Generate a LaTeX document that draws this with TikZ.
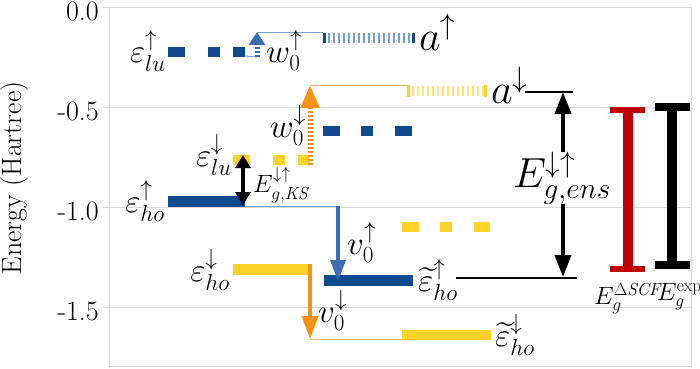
\RequirePackage{fix-cm}
\documentclass[tikz,border=0pt]{standalone}
\usepackage{amsmath,amssymb}
\usetikzlibrary{arrows.meta}

\definecolor{lvlblue}{RGB}{14,74,140}
\definecolor{lvlyellow}{RGB}{255,210,40}
\definecolor{arrblue}{RGB}{60,108,180}
\definecolor{arrorange}{RGB}{250,145,20}
\definecolor{hatchblue}{RGB}{120,160,205}
\definecolor{hatchyellow}{RGB}{255,226,120}
\definecolor{gapred}{RGB}{192,0,0}
\definecolor{gridgray}{RGB}{217,217,217}

\begin{document}
\begin{tikzpicture}[x=1pt, y=-1pt,
    lbl/.style={inner sep=0pt, font=\fontsize{33}{37}\selectfont},
    biglbl/.style={inner sep=0pt, font=\fontsize{42}{46}\selectfont},
    smalllbl/.style={inner sep=0pt, font=\fontsize{25}{30}\selectfont},
    ticklbl/.style={inner sep=0pt, font=\fontsize{28}{32}\selectfont},
    lvl/.style={line width=10.5pt},
    dashA/.style={dash pattern=on 17pt off 23pt on 12pt off 13pt},
    dashB/.style={dash pattern=on 17pt off 21pt on 12pt off 22pt},
    hatch/.style={line width=10pt, dash pattern=on 2pt off 3pt},
    linkblue/.style={draw=hatchblue, line width=1pt},
    linkorange/.style={draw=arrorange!60, line width=1pt},
    bigtip/.style={-{Triangle[width=16pt,length=22pt]}}
  ]
  \useasboundingbox (0,0) rectangle (700,368);

  % Axes
  \draw[gridgray, line width=0.8pt] (109,7) rectangle (691,366);
  \foreach \v/\yy/\n in {0.0/7/a, -0.5/107/b, -1.0/207/c, -1.5/307/d} {
    \draw[gridgray, line width=0.8pt] (103,\yy) -- (691,\yy);
    \node[ticklbl, anchor=east] (tick\n) at (99,\yy+4) {\v};
  }
  \node[ticklbl, rotate=90] (ylabel) at (15,178) {Energy (Hartree)};

  % Levels
  \coordinate (luUpL) at (168,52);    \coordinate (luUpR) at (245,52);
  \coordinate (aUpL) at (323,38);     \coordinate (aUpR) at (415,38);
  \coordinate (aDnL) at (407,91);     \coordinate (aDnR) at (487,91);
  \coordinate (lsUpL) at (323,131);   \coordinate (lsUpR) at (413,131);
  \coordinate (luDnL) at (233,160);   \coordinate (luDnR) at (310,160);
  \coordinate (hoUpL) at (168,201.5); \coordinate (hoUpR) at (245,201.5);
  \coordinate (lsDnL) at (402,227);   \coordinate (lsDnR) at (490,227);
  \coordinate (hoDnL) at (233,269.5); \coordinate (hoDnR) at (310,269.5);
  \coordinate (thUpL) at (324,280.5); \coordinate (thUpR) at (413,280.5);
  \coordinate (thDnL) at (402,335);   \coordinate (thDnR) at (491,335);

  \draw[lvl, lvlblue, dashA] (luUpL) -- (luUpR);
  \draw[lvl, lvlblue, dashB] (lsUpL) -- (lsUpR);
  \draw[lvl, lvlblue] (hoUpL) -- (hoUpR);
  \draw[lvl, lvlblue] (thUpL) -- (thUpR);
  \draw[lvl, lvlyellow, dashA] (luDnL) -- (luDnR);
  \draw[lvl, lvlyellow, dashB] (lsDnL) -- (lsDnR);
  \draw[lvl, lvlyellow] (hoDnL) -- (hoDnR);
  \draw[lvl, lvlyellow] (thDnL) -- (thDnR);
  \draw[hatch, hatchblue] (aUpL) -- (aUpR);
  \draw[lvlblue, line width=3pt] ([xshift=1.5pt,yshift=5pt]aUpL) -- ([xshift=1.5pt,yshift=-5pt]aUpL);
  \draw[lvlblue, line width=3pt] ([xshift=-1.5pt,yshift=5pt]aUpR) -- ([xshift=-1.5pt,yshift=-5pt]aUpR);
  \draw[hatch, hatchyellow] (aDnL) -- (aDnR);
  \draw[lvlyellow, line width=3pt] ([xshift=1.5pt,yshift=6pt]aDnL) -- ([xshift=1.5pt,yshift=-6pt]aDnL);
  \draw[lvlyellow, line width=3pt] ([xshift=-1.5pt,yshift=6pt]aDnR) -- ([xshift=-1.5pt,yshift=-6pt]aDnR);

  % Excitation arrows
  \coordinate (w0UpTail) at (257,57);  \coordinate (w0UpTip) at (257,32);
  \coordinate (w0DnTail) at (310,165); \coordinate (w0DnTip) at (310,85);
  \coordinate (v0UpTail) at (338,206); \coordinate (v0UpTip) at (338,281);
  \coordinate (v0DnTail) at (310,264); \coordinate (v0DnTip) at (310,339);

  \draw[linkblue] ([yshift=-4pt]luUpR) -- (w0UpTail);
  \draw[linkblue] (w0UpTip) -- (w0UpTip -| aUpL);
  \draw[arrblue, line width=5pt, dash pattern=on 2pt off 2pt, -{Triangle[width=16pt,length=13pt]}] (w0UpTail) -- (w0UpTip);

  \draw[linkorange] (w0DnTip) -- (w0DnTip -| aDnL);
  \draw[arrorange, line width=5pt, dash pattern=on 2pt off 2pt, -{Triangle[width=18pt,length=23pt]}] (w0DnTail) -- (w0DnTip);

  \draw[linkblue] ([yshift=-4.5pt]hoUpR) -- (v0UpTail);
  \draw[arrblue, line width=3.5pt, -{Triangle[width=15pt,length=21pt]}] (v0UpTail) -- (v0UpTip);

  \draw[linkorange] (v0DnTip) -- (v0DnTip -| thDnL);
  \draw[arrorange, line width=3.5pt, -{Triangle[width=16pt,length=23pt]}] (v0DnTail) -- (v0DnTip);

  % Gaps
  \coordinate (ksBot) at (243,205); \coordinate (ksTop) at (243,155);
  \draw[black, line width=4.5pt, {Triangle[width=15pt,length=13pt]}-{Triangle[width=15pt,length=13pt]}] (ksBot) -- (ksTop);

  \coordinate (ensTop) at (563,92); \coordinate (ensBot) at (563,277);
  \draw[black, line width=1.5pt] (525,92) -- (573,92);
  \draw[black, line width=1.5pt] (456,278) -- (577,278);
  \node[biglbl] (ens) at (562,178) {$E_{g,ens}^{\downarrow\uparrow}$};
  \draw[black, line width=4pt, bigtip] (ens.north -| ensTop) -- (ensTop);
  \draw[black, line width=4pt, bigtip] (ens.south -| ensBot) -- (ensBot);

  \coordinate (scfTop) at (628,110); \coordinate (scfBot) at (628,269);
  \draw[gapred, line width=10pt] (scfTop) -- (scfBot);
  \draw[gapred, line width=6pt] ([xshift=-18pt]scfTop) -- ([xshift=17pt]scfTop);
  \draw[gapred, line width=6pt] ([xshift=-18pt]scfBot) -- ([xshift=17pt]scfBot);

  \coordinate (expTop) at (672,107); \coordinate (expBot) at (672,265);
  \draw[black, line width=10pt] (expTop) -- (expBot);
  \draw[black, line width=8pt] ([xshift=-17pt]expTop) -- ([xshift=18pt]expTop);
  \draw[black, line width=8pt] ([xshift=-17pt]expBot) -- ([xshift=18pt]expBot);

  % Labels
  \node[lbl, anchor=base east] (luUpLbl) at (166,62) {$\varepsilon_{lu}^{\uparrow}$};
  \node[lbl, anchor=base west] (w0UpLbl) at (266,62) {$w_0^{\uparrow}$};
  \node[biglbl, anchor=base west] (aUpLbl) at (419,50) {$a^{\uparrow}$};
  \node[biglbl, anchor=base west] (aDnLbl) at (491,103) {$a^{\downarrow}$};
  \node[lbl, anchor=base east] (w0DnLbl) at (306,137) {$w_0^{\downarrow}$};
  \node[lbl, anchor=base east] (luDnLbl) at (232,166) {$\varepsilon_{lu}^{\downarrow}$};
  \node[smalllbl, anchor=base west] (ksLbl) at (253,192) {$E_{g,\mathit{KS}}^{\downarrow\uparrow}$};
  \node[lbl, anchor=base east] (hoUpLbl) at (165,212) {$\varepsilon_{ho}^{\uparrow}$};
  \node[lbl, anchor=base west] (v0UpLbl) at (347,254) {$v_0^{\uparrow}$};
  \node[lbl, anchor=base east] (hoDnLbl) at (230,281) {$\varepsilon_{ho}^{\downarrow}$};
  \node[lbl, anchor=base west] (v0DnLbl) at (318,322) {$v_0^{\downarrow}$};
  \node[lbl, anchor=base west] (thUpLbl) at (418,291) {$\widetilde{\varepsilon}_{ho}^{\uparrow}$};
  \node[lbl, anchor=base west] (thDnLbl) at (495,346) {$\widetilde{\varepsilon}_{ho}^{\downarrow}$};
  \node[smalllbl, anchor=north west] (scfLbl) at (594,283) {$E_g^{\Delta\mathit{SCF}}$};
  \node[smalllbl, anchor=north west] (expLbl) at (657,283) {$E_g^{\mathrm{exp}}$};
\end{tikzpicture}
\end{document}
